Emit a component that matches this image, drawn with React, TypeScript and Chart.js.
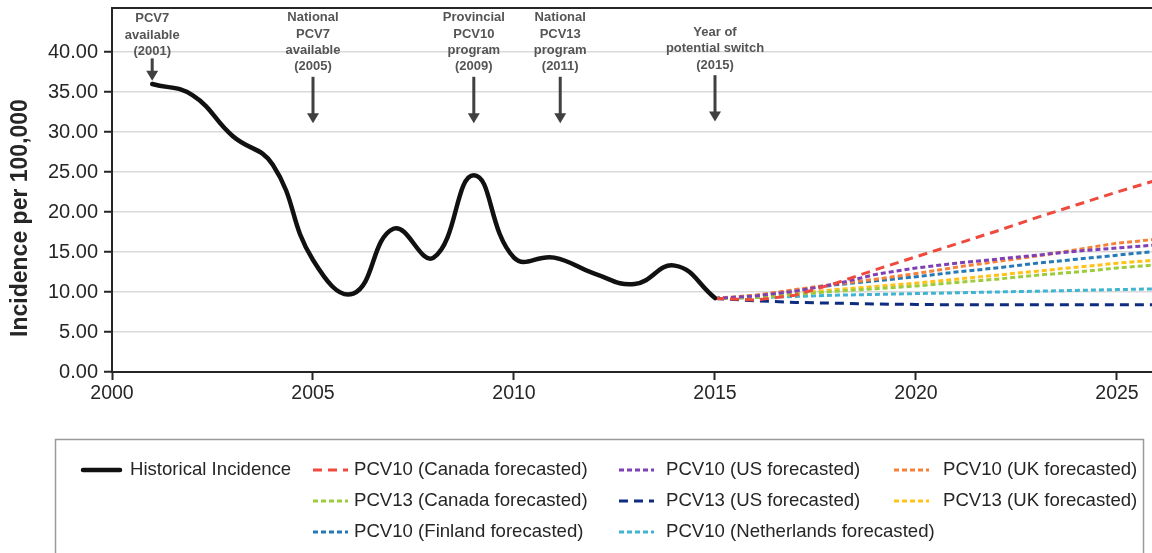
import React, { useEffect, useRef } from "react";
import { Chart, registerables } from "chart.js";

Chart.register(...registerables);

// ---------- data ----------
const histYears = [2001, 2002, 2003, 2004, 2005, 2006, 2007, 2008, 2009, 2010, 2011, 2012, 2013, 2014, 2015];
const histValues = [36.0, 34.6, 29.5, 25.9, 14.0, 9.8, 17.9, 14.3, 24.6, 14.3, 14.3, 12.3, 11.0, 13.3, 9.25];

const forecastYears = [2015, 2016, 2017, 2018, 2019, 2020, 2021, 2022, 2023, 2024, 2025, 2026];
const pcv10Canada = [9.2, 9.0, 9.6, 11.1, 12.8, 14.4, 16.0, 17.6, 19.3, 20.9, 22.5, 24.0];
const pcv10US = [9.2, 9.5, 10.1, 11.0, 12.2, 13.0, 13.6, 14.1, 14.6, 15.1, 15.5, 15.9];
const pcv10UK = [9.2, 9.6, 10.3, 11.0, 11.6, 12.3, 13.1, 13.8, 14.5, 15.3, 16.1, 16.6];
const pcv13Canada = [9.2, 9.3, 9.7, 10.1, 10.4, 10.75, 11.2, 11.6, 12.1, 12.5, 13.0, 13.4];
const pcv13US = [9.2, 8.9, 8.7, 8.6, 8.5, 8.45, 8.4, 8.4, 8.4, 8.4, 8.4, 8.4];
const pcv13UK = [9.2, 9.4, 9.8, 10.3, 10.7, 11.1, 11.6, 12.1, 12.6, 13.1, 13.6, 14.0];
const pcv10Finland = [9.2, 9.5, 10.2, 10.9, 11.4, 11.9, 12.5, 13.0, 13.6, 14.1, 14.6, 15.1];
const pcv10Netherlands = [9.2, 9.3, 9.45, 9.6, 9.7, 9.8, 9.9, 10.0, 10.1, 10.2, 10.3, 10.4];

const seriesLabels = [
  "Historical Incidence",
  "PCV10 (Canada forecasted)",
  "PCV10 (US forecasted)",
  "PCV10 (UK forecasted)",
  "PCV13 (Canada forecasted)",
  "PCV13 (US forecasted)",
  "PCV13 (UK forecasted)",
  "PCV10 (Finland forecasted)",
  "PCV10 (Netherlands forecasted)",
];

const xTickValues = [2000, 2005, 2010, 2015, 2020, 2025];
const yTickValues = [0, 5, 10, 15, 20, 25, 30, 35, 40];

const annotationYears = [2001, 2005, 2009, 2011.15, 2015];
const annotationTexts = [
  ["PCV7", "available", "(2001)"],
  ["National", "PCV7", "available", "(2005)"],
  ["Provincial", "PCV10", "program", "(2009)"],
  ["National", "PCV13", "program", "(2011)"],
  ["Year of", "potential switch", "(2015)"],
];
const arrowTops = [39.2, 36.9, 36.9, 36.9, 37.1];
const arrowTips = [36.4, 31.1, 31.1, 31.1, 31.3];

// ---------- styling ----------
const FONT = "'Liberation Sans', Arial, Helvetica, sans-serif";
const TEXT = "#262626";
const AXIS = "#262626";
const CANVAS_W = 1210;
const CANVAS_H = 553;
const PLOT_LEFT = 112;
const X_PER_YEAR = 40.2;
const X_MAX = 2000 + (CANVAS_W - PLOT_LEFT) / X_PER_YEAR;

const colors = ["#111111", "#EE4A3D", "#7E40B6", "#F5823A", "#9CCB3C", "#0E2C80", "#FFC21A", "#2579B7", "#42B4D2"];
const longDash = [9, 6];
const shortDash = [5, 3];
const dashes = [[], longDash, shortDash, shortDash, shortDash, longDash, shortDash, shortDash, shortDash];

const forecastSeries = [pcv10Canada, pcv10US, pcv10UK, pcv13Canada, pcv13US, pcv13UK, pcv10Finland, pcv10Netherlands];

// legend slots (row, col) for each dataset
const legendSlots = [[0, 0], [0, 1], [0, 2], [0, 3], [1, 1], [1, 2], [1, 3], [2, 1], [2, 2]];
const legendSymX = [83, 313, 619, 894];
const legendTextX = [130, 354, 666, 943];
const legendRowY = [470, 501, 532];

const overlayPlugin = {
  id: "overlay",
  afterDraw(chart: any) {
    const { ctx, chartArea, scales } = chart;
    const xs = scales.x;
    const ys = scales.y;
    ctx.save();

    // top frame line
    ctx.strokeStyle = AXIS;
    ctx.lineWidth = 2;
    ctx.beginPath();
    ctx.moveTo(chartArea.left, chartArea.top);
    ctx.lineTo(chartArea.right, chartArea.top);
    ctx.stroke();

    // annotations
    annotationYears.forEach((yr, i) => {
      const x = xs.getPixelForValue(yr);
      const yTop = ys.getPixelForValue(arrowTops[i]);
      const yTip = ys.getPixelForValue(arrowTips[i]);
      ctx.strokeStyle = "#404040";
      ctx.fillStyle = "#404040";
      ctx.lineWidth = 3;
      ctx.beginPath();
      ctx.moveTo(x, yTop);
      ctx.lineTo(x, yTip - 8);
      ctx.stroke();
      ctx.beginPath();
      ctx.moveTo(x - 6, yTip - 10);
      ctx.lineTo(x + 6, yTip - 10);
      ctx.lineTo(x, yTip);
      ctx.closePath();
      ctx.fill();

      const lines = annotationTexts[i];
      ctx.font = `bold 13px ${FONT}`;
      ctx.fillStyle = "#555555";
      ctx.textAlign = "center";
      ctx.textBaseline = "middle";
      const lh = 16.3;
      const lastY = yTop - (i === 0 ? 7 : 10);
      lines.forEach((t, j) => {
        ctx.fillText(t, x, lastY - (lines.length - 1 - j) * lh);
      });
    });

    // y axis title
    ctx.save();
    ctx.translate(21, 218);
    ctx.rotate(-Math.PI / 2);
    ctx.font = `bold 23px ${FONT}`;
    ctx.fillStyle = TEXT;
    ctx.textAlign = "center";
    ctx.textBaseline = "middle";
    ctx.fillText("Incidence per 100,000", 0, 0);
    ctx.restore();

    // legend box
    ctx.strokeStyle = "#9a9a9a";
    ctx.lineWidth = 1.5;
    ctx.strokeRect(55.5, 439.5, 1088, 140);

    chart.data.datasets.forEach((ds: any, i: number) => {
      const [r, c] = legendSlots[i];
      const y = legendRowY[r];
      const sx = legendSymX[c];
      ctx.strokeStyle = ds.borderColor;
      ctx.lineWidth = i === 0 ? 4.5 : 3;
      ctx.setLineDash(ds.borderDash || []);
      ctx.lineCap = i === 0 ? "round" : "butt";
      ctx.beginPath();
      ctx.moveTo(sx, y);
      ctx.lineTo(sx + (i === 0 ? 37 : 35), y);
      ctx.stroke();
      ctx.setLineDash([]);
      ctx.font = `18.6px ${FONT}`;
      ctx.fillStyle = TEXT;
      ctx.textAlign = "left";
      ctx.textBaseline = "middle";
      ctx.fillText(ds.label, legendTextX[c], y);
    });

    ctx.restore();
  },
};

export default function App() {
  const ref = useRef<HTMLCanvasElement | null>(null);

  useEffect(() => {
    if (!ref.current) return;
    const datasets: any[] = [];
    datasets.push({
      label: seriesLabels[0],
      data: histYears.map((x, i) => ({ x, y: histValues[i] })),
      borderColor: colors[0],
      borderWidth: 4.5,
      tension: 0.45,
      pointRadius: 0,
      fill: false,
      borderCapStyle: "round",
    });
    forecastSeries.forEach((vals, k) => {
      datasets.push({
        label: seriesLabels[k + 1],
        data: forecastYears.map((x, i) => ({ x, y: vals[i] })),
        borderColor: colors[k + 1],
        borderWidth: 3,
        borderDash: dashes[k + 1],
        tension: 0,
        pointRadius: 0,
        fill: false,
      });
    });

    const chart = new Chart(ref.current, {
      type: "line",
      data: { datasets },
      options: {
        animation: false,
        responsive: false,
        maintainAspectRatio: false,
        devicePixelRatio: 1,
        layout: { padding: { top: 8, left: 0, right: 0, bottom: 0 } },
        plugins: { legend: { display: false }, tooltip: { enabled: false } },
        elements: { point: { radius: 0 } },
        scales: {
          x: {
            type: "linear",
            min: 2000,
            max: X_MAX,
            afterBuildTicks: (s: any) => {
              s.ticks = xTickValues.map((v) => ({ value: v }));
            },
            afterFit: (s: any) => {
              s.height = 181;
              s.paddingLeft = 0;
              s.paddingRight = 0;
            },
            grid: { drawOnChartArea: false, drawTicks: true, tickLength: 8, tickColor: AXIS, tickWidth: 2 },
            border: { color: AXIS, width: 2 },
            ticks: {
              font: { size: 19.5, family: FONT },
              color: TEXT,
              padding: 2,
              maxRotation: 0,
              autoSkip: false,
              callback: (v: any) => String(v),
            },
          },
          y: {
            type: "linear",
            min: 0,
            max: 45.5,
            afterBuildTicks: (s: any) => {
              s.ticks = yTickValues.map((v) => ({ value: v }));
            },
            afterFit: (s: any) => {
              s.width = PLOT_LEFT;
              s.paddingTop = 0;
              s.paddingBottom = 0;
            },
            grid: { color: "#d9d9d9", lineWidth: 1.5, drawTicks: true, tickLength: 8, tickColor: AXIS, tickWidth: 2 },
            border: { color: AXIS, width: 2 },
            ticks: {
              font: { size: 20, family: FONT },
              color: TEXT,
              padding: 6,
              autoSkip: false,
              callback: (v: any) => Number(v).toFixed(2),
            },
          },
        },
      } as any,
      plugins: [overlayPlugin],
    });
    return () => chart.destroy();
  }, []);

  return (
    <div style={{ position: "absolute", left: 0, top: 0, width: 1152, height: 553, overflow: "hidden", background: "#fff" }}>
      <canvas
        ref={ref}
        width={CANVAS_W}
        height={CANVAS_H}
        style={{ display: "block", width: CANVAS_W + "px", height: CANVAS_H + "px" }}
      />
    </div>
  );
}
